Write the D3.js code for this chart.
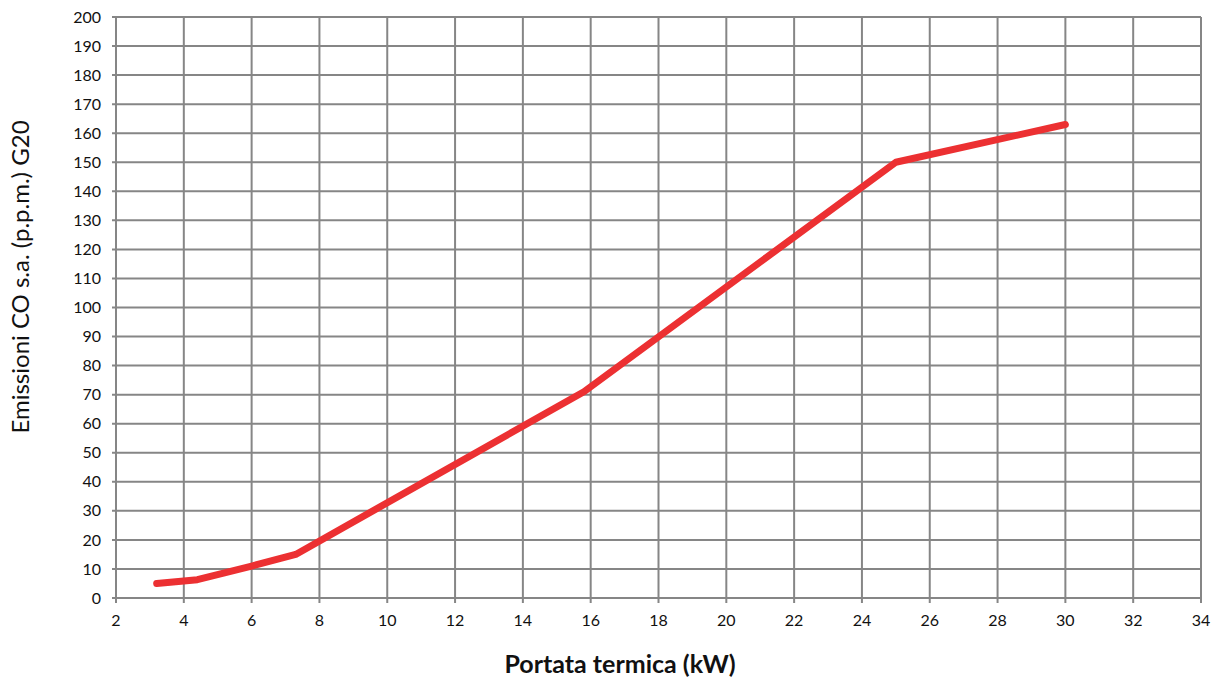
<!DOCTYPE html>
<html><head><meta charset="utf-8">
<script src="https://cdn.jsdelivr.net/npm/d3@7"></script>
<style>body{margin:0;background:#fff}svg{display:block}</style>
</head><body>
<script>
const xValues = [3.2, 4.4, 6.0, 7.3, 15.8, 25.0, 30.0];
const coValues = [5, 6.3, 11, 15, 71, 150, 163];
const xTicks = d3.range(2, 35, 2);
const yTicks = d3.range(0, 201, 10);
const xTitle = "Portata termica (kW)";
const yTitle = "Emissioni CO s.a. (p.p.m.) G20";

const W = 1212, H = 678;
const m = {left:116, right:11, top:17, bottom:80};
const svg = d3.select("body").append("svg").attr("width", W).attr("height", H);
const x = d3.scaleLinear().domain([2, 34]).range([m.left, W - m.right]);
const y = d3.scaleLinear().domain([0, 200]).range([H - m.bottom, m.top]);
const font = "Lato, 'Open Sans', sans-serif";
const grid = "#868686";

const g = svg.append("g");
g.selectAll(".hl").data(yTicks).join("line")
  .attr("x1", x(2) - 4).attr("x2", x(34))
  .attr("y1", d => y(d)).attr("y2", d => y(d))
  .attr("stroke", grid).attr("stroke-width", 2);
g.selectAll(".vl").data(xTicks).join("line")
  .attr("x1", d => x(d)).attr("x2", d => x(d))
  .attr("y1", y(200)).attr("y2", y(0) + 5)
  .attr("stroke", grid).attr("stroke-width", 2);

g.selectAll(".yt").data(yTicks).join("text")
  .attr("x", x(2) - 15).attr("y", d => y(d)).attr("dy", "0.35em")
  .attr("text-anchor", "end").attr("font-family", font).attr("font-size", 16)
  .attr("fill", "#111").text(d => d);
g.selectAll(".xt").data(xTicks).join("text")
  .attr("x", d => x(d)).attr("y", y(0) + 28)
  .attr("text-anchor", "middle").attr("font-family", font).attr("font-size", 16)
  .attr("fill", "#111").text(d => d);

const line = d3.line().x((d,i) => x(xValues[i])).y(d => y(d));
svg.append("path").datum(coValues).attr("d", line)
  .attr("fill", "none").attr("stroke", "#ec3032").attr("stroke-width", 7)
  .attr("stroke-linecap", "round").attr("stroke-linejoin", "round");

svg.append("text").attr("x", 620).attr("y", 673)
  .attr("text-anchor", "middle").attr("font-family", font).attr("font-weight", "bold")
  .attr("font-size", 25).attr("fill", "#111").text(xTitle);
svg.append("text").attr("transform", `translate(29,277) rotate(-90)`)
  .attr("text-anchor", "middle").attr("font-family", font)
  .attr("font-size", 24).attr("fill", "#111").text(yTitle);
</script>
</body></html>
